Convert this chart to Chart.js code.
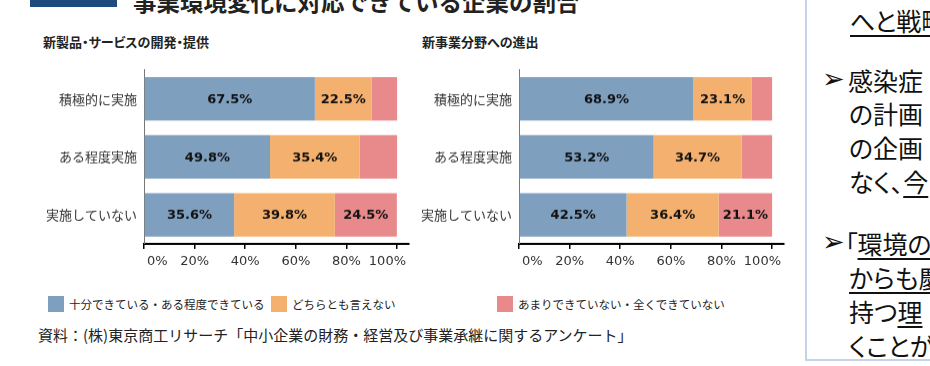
<!DOCTYPE html>
<html lang="ja">
<head>
<meta charset="UTF-8">
<title>事業環境変化に対応できている企業の割合</title>
<script src="https://cdn.jsdelivr.net/npm/chart.js"></script>
<style>
  body {
    margin: 0;
    width: 930px;
    height: 366px;
    overflow: hidden;
    background: #fff;
    position: relative;
    font-family: "Noto Sans CJK JP", sans-serif;
    color: #222;
  }
  .box { position: absolute; }
  #titleBar { left: 30px; top: 0; width: 87px; height: 7px; background: #1f4a7c; }
  #mainTitle { left: 133px; top: -14px; font-size: 23.5px; font-weight: bold; white-space: nowrap; line-height: 30px; }
  .subTitle { font-size: 13px; font-weight: bold; top: 32px; white-space: nowrap; font-feature-settings: "palt"; }
  #chart1 { left: 0; top: 55px; width: 430px; height: 214.5px; }
  #chart2 { left: 375px; top: 55px; width: 430px; height: 214.5px; }
  #legend { left: 0; top: 296px; width: 800px; height: 20px; font-size: 11.5px; }
  .lg { position: absolute; top: 0; white-space: nowrap; line-height: 17px; }
  .lg span { display: inline-block; width: 16px; height: 16px; vertical-align: top; margin-right: 5px; }
  #source { left: 38px; top: 324px; font-size: 15px; white-space: nowrap; }
  #panel { left: 805px; top: -5px; width: 140px; height: 364px; border-left: 2px solid #c3d3ea; border-bottom: 2px solid #c3d3ea; overflow: hidden; }
  #panel p { margin: 0; position: absolute; white-space: nowrap; font-size: 25px; line-height: 34px; font-feature-settings: "palt"; color: #111; }
  #panel .arrow { font-family: "DejaVu Sans"; font-size: 27px; line-height: 34px; }
  u { text-underline-offset: 4px; text-decoration-thickness: 1.5px; }
</style>
</head>
<body>
<div id="titleBar" class="box"></div>
<div id="mainTitle" class="box">事業環境変化に対応できている企業の割合</div>
<div class="box subTitle" style="left:43px">新製品・サービスの開発・提供</div>
<div class="box subTitle" style="left:422px">新事業分野への進出</div>
<div id="chart1" class="box"><canvas id="c1"></canvas></div>
<div id="chart2" class="box"><canvas id="c2"></canvas></div>
<div id="legend" class="box"></div>
<div id="source" class="box">資料：(株)東京商工リサーチ「中小企業の財務・経営及び事業承継に関するアンケート」</div>
<div id="panel" class="box">
  <p style="left:43px;top:8px"><u>へと戦略</u></p>
  <p class="arrow" style="left:15px;top:67px">➢</p>
  <p style="left:41px;top:68px">感染症</p>
  <p style="left:42px;top:101px">の計画</p>
  <p style="left:42px;top:135px">の企画</p>
  <p style="left:42px;top:169px">なく、<u>今</u></p>
  <p class="arrow" style="left:15px;top:230px">➢</p>
  <p style="left:38px;top:231px">「<u>環境の</u></p>
  <p style="left:42px;top:265px"><u>からも慶</u></p>
  <p style="left:42px;top:299px">持つ<u>理</u></p>
  <p style="left:42px;top:333px">くことが</p>
</div>
<script>
const categories = ["積極的に実施", "ある程度実施", "実施していない"];
const seriesNames = ["十分できている・ある程度できている", "どちらとも言えない", "あまりできていない・全くできていない"];
const seriesColors = ["#7f9fbf", "#f4b06e", "#e8898b"];

// 新製品・サービスの開発・提供
const productGood = [67.5, 49.8, 35.6];
const productNeutral = [22.5, 35.4, 39.8];
const productBad = [10.0, 14.8, 24.5];

// 新事業分野への進出
const entryGood = [68.9, 53.2, 42.5];
const entryNeutral = [23.1, 34.7, 36.4];
const entryBad = [8.0, 12.1, 21.1];

const tickValues = [0, 20, 40, 60, 80, 100];

// legend (shared by both charts)
const legendLeft = [48, 271, 497];
const legendEl = document.getElementById("legend");
seriesNames.forEach((name, i) => {
  const d = document.createElement("div");
  d.className = "lg";
  d.style.left = legendLeft[i] + "px";
  d.innerHTML = `<span style="background:${seriesColors[i]}"></span>${name}`;
  legendEl.appendChild(d);
});

// values inside the bars, only where the segment is wide enough
const segmentLabels = {
  id: "segmentLabels",
  afterDatasetsDraw(chart) {
    const ctx = chart.ctx;
    ctx.save();
    ctx.font = 'bold 13px "DejaVu Sans"';
    ctx.fillStyle = "#111";
    ctx.textAlign = "center";
    ctx.textBaseline = "middle";
    chart.data.datasets.forEach((ds, i) => {
      chart.getDatasetMeta(i).data.forEach((bar, j) => {
        const v = ds.data[j];
        if (v < 20) return;
        ctx.fillText(v.toFixed(1) + "%", (bar.x + bar.base) / 2, bar.y + 1);
      });
    });
    ctx.restore();
  }
};

// x tick labels kept inside the axis ends, like the original
const xTickLabels = {
  id: "xTickLabels",
  afterDraw(chart) {
    const scale = chart.scales.x;
    const area = chart.chartArea;
    const ctx = chart.ctx;
    ctx.save();
    ctx.font = '13px "DejaVu Sans"';
    ctx.fillStyle = "#333";
    ctx.textAlign = "left";
    ctx.textBaseline = "middle";
    scale.ticks.forEach((t) => {
      const text = t.value + "%";
      const w = ctx.measureText(text).width;
      let left = scale.getPixelForValue(t.value) - w / 2;
      left = Math.max(left, area.left + 3);
      left = Math.min(left, area.right - 3 - w);
      ctx.fillText(text, left, area.bottom + 18);
    });
    ctx.restore();
  }
};

function makeChart(id, good, neutral, bad) {
  const values = [good, neutral, bad];
  new Chart(document.getElementById(id), {
    type: "bar",
    data: {
      labels: categories,
      datasets: values.map((v, i) => ({
        label: seriesNames[i],
        data: v,
        backgroundColor: seriesColors[i],
        borderWidth: 0,
        barPercentage: 0.75,
        categoryPercentage: 1.0
      }))
    },
    options: {
      indexAxis: "y",
      responsive: true,
      maintainAspectRatio: false,
      animation: false,
      layout: { padding: { top: 3.5, right: 21, left: 0, bottom: 0 } },
      plugins: { legend: { display: false }, tooltip: { enabled: false } },
      scales: {
        x: {
          stacked: true,
          min: 0,
          max: 104.7,
          afterBuildTicks: (scale) => { scale.ticks = tickValues.map(v => ({ value: v })); },
          grid: { drawOnChartArea: false, tickLength: 5, color: "#000", lineWidth: 1.5 },
          border: { color: "#000", width: 2 },
          ticks: {
            padding: 3,
            color: "rgba(0,0,0,0)",
            font: { family: "DejaVu Sans", size: 13 },
            callback: (v) => v + "%"
          }
        },
        y: {
          stacked: true,
          grid: { display: false, drawTicks: false },
          border: { color: "#777", width: 1 },
          afterFit: (scale) => { scale.width = 144; },
          ticks: {
            padding: 7,
            color: "#333",
            font: { family: "Noto Sans CJK JP", size: 13 }
          }
        }
      }
    },
    plugins: [segmentLabels, xTickLabels]
  });
}

makeChart("c1", productGood, productNeutral, productBad);
makeChart("c2", entryGood, entryNeutral, entryBad);
</script>
</body>
</html>
